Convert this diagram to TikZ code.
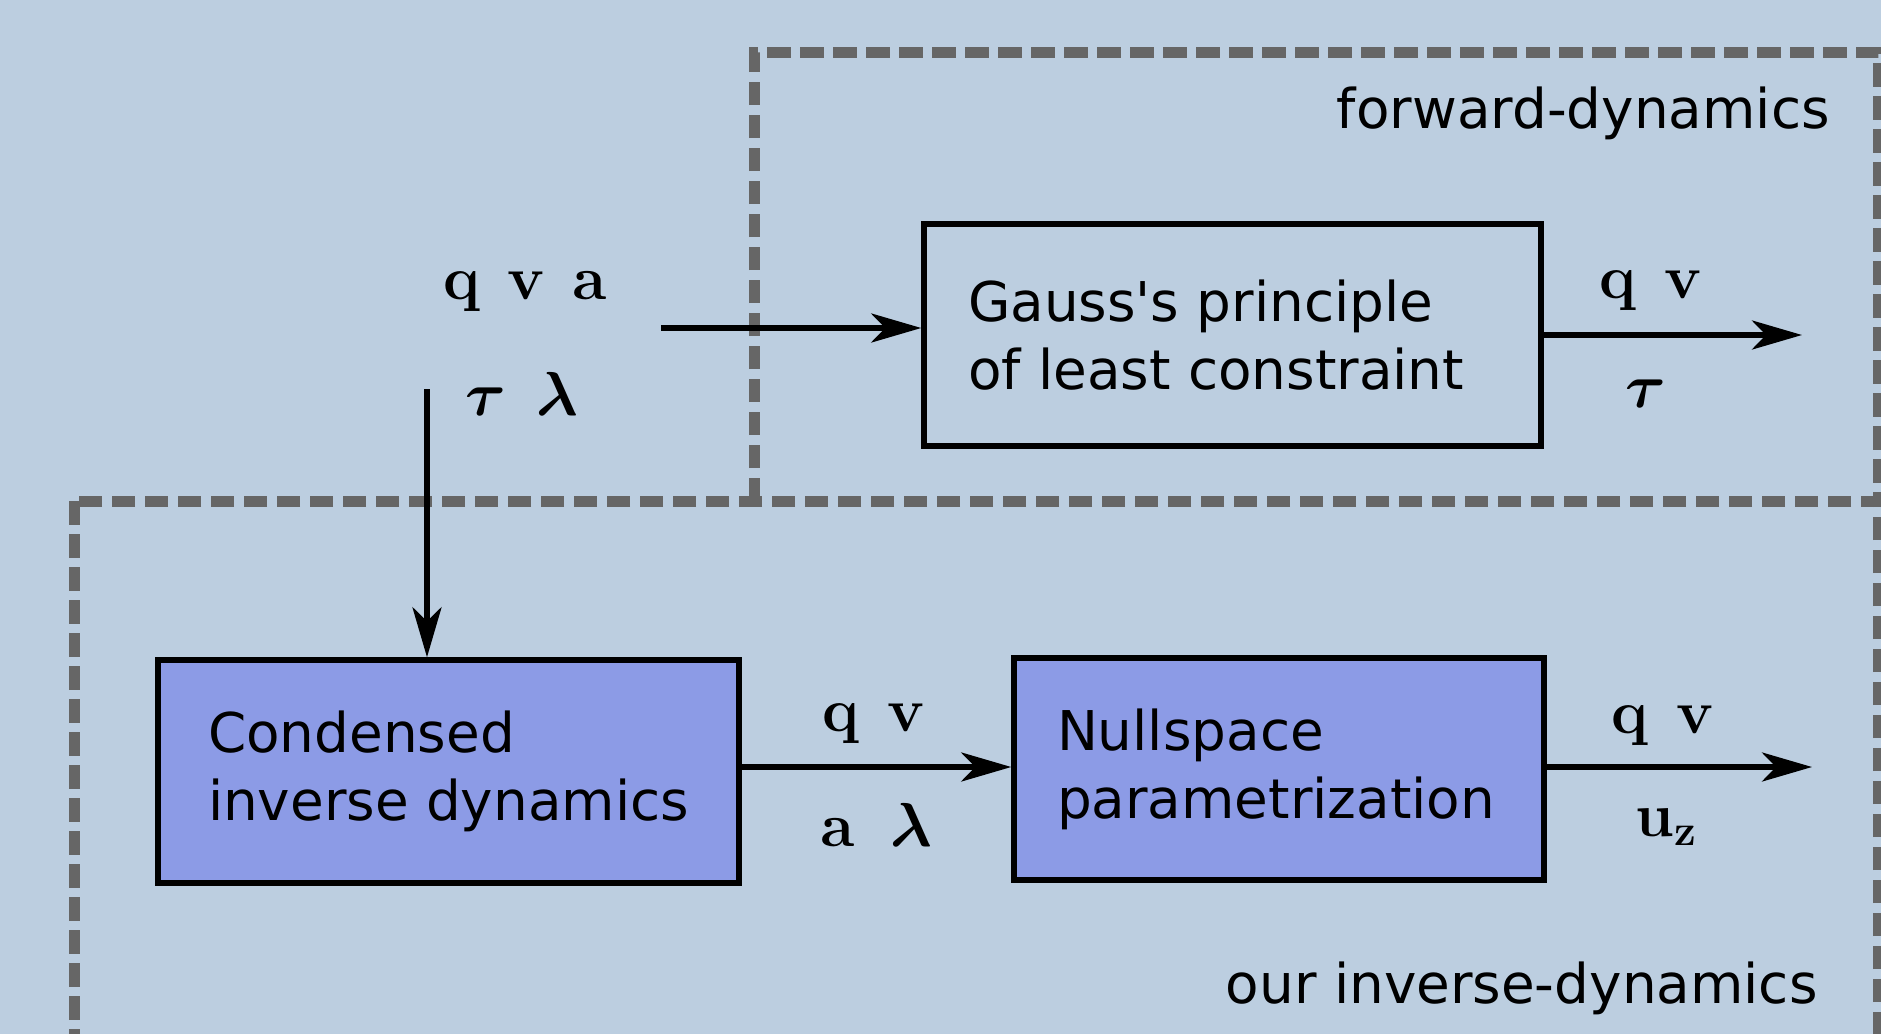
\RequirePackage{fix-cm}
\documentclass[tikz,border=0pt]{standalone}
\usepackage{amsmath}
\usepackage{bm}
\usepackage[no-math]{fontspec}
\setmainfont{DejaVu Sans}[Ligatures=TeXOff]
\usetikzlibrary{arrows.meta}
\definecolor{bg}{RGB}{188,206,224}
\definecolor{dashgray}{RGB}{102,102,102}
\definecolor{boxblue}{RGB}{140,155,230}
\newcommand{\symtext}[1]{\scalebox{1.09}{$#1$}}
\tikzset{
  region/.style={draw=dashgray, line width=5.5pt, dash pattern=on 11.75pt off 4.75pt},
  block/.style={draw=black, line width=2.75pt, align=flush left, inner ysep=0pt,
    font=\fontsize{27.4}{34}\selectfont},
  flow/.style={draw=black, line width=2.75pt, -{Stealth[length=25pt,width=14.5pt,inset=7pt]}},
  sym/.style={inner sep=0pt, font=\fontsize{28.5}{34}\selectfont},
  title/.style={inner sep=0pt, font=\fontsize{27.4}{34}\selectfont},
}
\begin{document}
\begin{tikzpicture}[x=0.5pt,y=-0.5pt]
  \useasboundingbox (0,0) rectangle (1881,1034);
  \fill[bg] (0,0) rectangle (1881,1034);
  \clip (0,0) rectangle (1881,1034);
  % dashed regions
  \draw[region] (74,501) rectangle (1878,1120);
  \draw[region] (754,501) -- (754,52) -- (1878,52) -- (1878,501);
  % region titles
  \node[title, anchor=base east] (fwdtitle) at (1830,128) {forward-dynamics};
  \node[title, anchor=base east] (invtitle) at (1818,1003) {our inverse-dynamics};
  % blocks
  \node[block, minimum width=308.5pt, minimum height=111pt, inner xsep=22pt, text width=264.5pt]
    (gauss) at (1232.5,335) {Gauss's principle\\of least constraint};
  \node[block, fill=boxblue, minimum width=290.5pt, minimum height=111.5pt, inner xsep=25pt, text width=240.5pt]
    (cond) at (448.5,771.5) {Condensed\\inverse dynamics};
  \node[block, fill=boxblue, minimum width=265pt, minimum height=111pt, inner xsep=21.5pt, text width=222pt]
    (null) at (1279,769) {Nullspace\\parametrization};
  % free ends
  \coordinate (inA) at (661,328);
  \coordinate (vA) at (427,389);
  \coordinate (outG) at (1802,335);
  \coordinate (outN) at (1812,767);
  % connectors
  \draw[flow] (inA) -- (inA -| gauss.west);
  \draw[flow] (vA) -- (vA |- cond.north);
  \draw[flow] (gauss.east) -- (outG);
  \draw[flow] (cond.east |- outN) -- (null.west |- outN);
  \draw[flow] (null.east |- outN) -- (outN);
  % labels
  \node[sym] (lqva) at (525,292) {\symtext{\mathbf{q}\mskip8mu\mathbf{v}\mskip8mu\mathbf{a}}};
  \node[sym] (ltl) at (522,394) {\symtext{\bm{\tau}\mskip8.7mu\bm{\lambda}}};
  \node[sym] (lgqv) at (1651,291) {\symtext{\mathbf{q}\mskip8mu\mathbf{v}}};
  \node[sym] (lgt) at (1646,394) {\symtext{\bm{\tau}}};
  \node[sym] (lcqv) at (874,724) {\symtext{\mathbf{q}\mskip8mu\mathbf{v}}};
  \node[sym] (lcal) at (876,825) {\symtext{\mathbf{a}\mskip10.4mu\bm{\lambda}}};
  \node[sym] (lnqv) at (1663,726) {\symtext{\mathbf{q}\mskip8mu\mathbf{v}}};
  \node[sym] (lnu) at (1666,827) {\symtext{\mathbf{u}_{\mathbf{z}}}};
\end{tikzpicture}
\end{document}
